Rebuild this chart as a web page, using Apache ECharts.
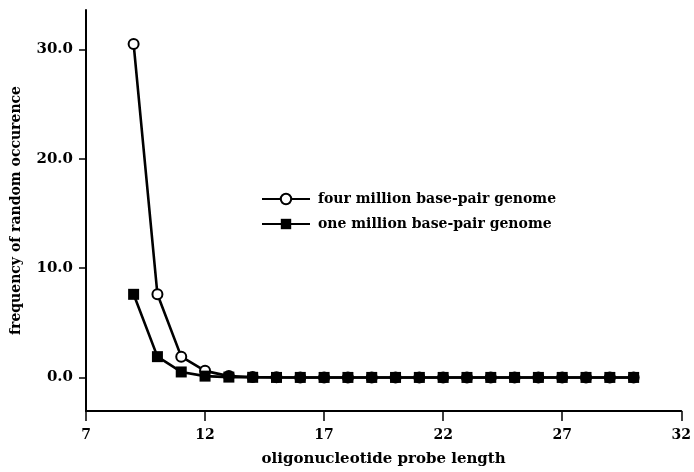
<!DOCTYPE html>
<html><head><meta charset="utf-8">
<script src="https://cdn.jsdelivr.net/npm/echarts@6/dist/echarts.min.js"></script>
<style>html,body{margin:0;padding:0;background:#fff}#c{width:694px;height:472px}</style>
</head><body><div id="c"></div>
<script>
const probeLengths = [9,10,11,12,13,14,15,16,17,18,19,20,21,22,23,24,25,26,27,28,29,30];
const fourMillion = [30.5,7.6,1.9,0.6,0.12,0.03,0.01,0,0,0,0,0,0,0,0,0,0,0,0,0,0,0];
const oneMillion  = [7.6,1.9,0.5,0.12,0.03,0.01,0,0,0,0,0,0,0,0,0,0,0,0,0,0,0,0];
const yTicks = [0,10,20,30];
const xTicks = [7,12,17,22,27,32];
const seriesNames = ['four million base-pair genome','one million base-pair genome'];

const FONT = 'DejaVu Serif';
const chart = echarts.init(document.getElementById('c'), null, {renderer:'canvas'});
const pairs = arr => probeLengths.map((x,i)=>[x,arr[i]]);
chart.setOption({
  animation:false,
  backgroundColor:'#fff',
  grid:{left:86,right:6,top:10,bottom:59},
  legend:{
    orient:'vertical', left:256, top:187, itemGap:11,
    itemWidth:48, itemHeight:13,
    textStyle:{fontFamily:FONT,fontWeight:'bold',fontSize:14,color:'#000',padding:[0,0,0,3]},
    data:seriesNames
  },
  xAxis:{
    type:'value', min:7, max:32, interval:5,
    name:'oligonucleotide probe length', nameLocation:'middle', nameGap:41,
    nameTextStyle:{fontFamily:FONT,fontWeight:'bold',fontSize:15,color:'#000'},
    axisLine:{onZero:false,lineStyle:{color:'#000',width:2}},
    axisTick:{show:true,length:10,lineStyle:{color:'#000',width:1.5},customValues:xTicks},
    axisLabel:{fontFamily:FONT,fontWeight:'bold',fontSize:14,color:'#000',margin:17,customValues:xTicks},
    splitLine:{show:false}
  },
  yAxis:{
    type:'value', min:-3.07, max:33.6,
    name:'frequency of random occurence', nameLocation:'middle', nameGap:63,
    nameTextStyle:{fontFamily:FONT,fontWeight:'bold',fontSize:14,color:'#000'},
    axisLine:{show:true,onZero:false,lineStyle:{color:'#000',width:2}},
    axisTick:{show:true,length:7,lineStyle:{color:'#000',width:1.5},customValues:yTicks},
    axisLabel:{fontFamily:FONT,fontWeight:'bold',fontSize:15,color:'#000',margin:13,
      customValues:yTicks, formatter:v=>v.toFixed(1)},
    splitLine:{show:false}
  },
  series:[
    {name:seriesNames[0], type:'line', data:pairs(fourMillion), symbol:'circle', symbolSize:10,
     lineStyle:{color:'#000',width:2.6}, itemStyle:{color:'#fff',borderColor:'#000',borderWidth:2}, z:2},
    {name:seriesNames[1], type:'line', data:pairs(oneMillion), symbol:'rect', symbolSize:11,
     lineStyle:{color:'#000',width:2.6}, itemStyle:{color:'#000',borderColor:'#000',borderWidth:0}, z:3}
  ]
});
</script></body></html>
